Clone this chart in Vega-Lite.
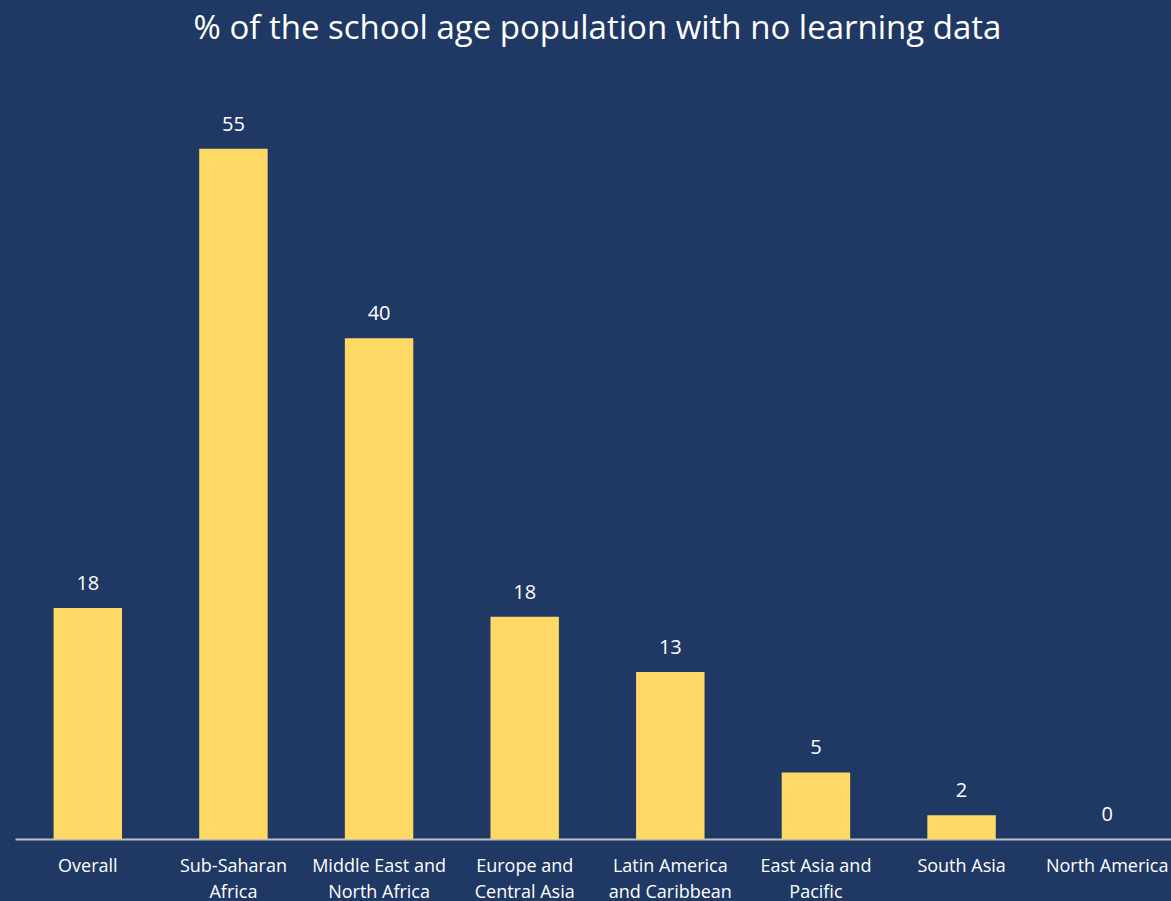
{
  "$schema": "https://vega.github.io/schema/vega-lite/v6.json",
  "width": 1165,
  "height": 753,
  "autosize": {"type": "none"},
  "padding": {"left": 15, "top": 86, "right": 0, "bottom": 62},
  "background": "#203864",
  "title": {
    "text": "% of the school age population with no learning data",
    "fontSize": 33,
    "font": "Open Sans",
    "fontWeight": "normal",
    "color": "#FFFFFF",
    "anchor": "middle",
    "frame": "group",
    "offset": 40
  },
  "config": {"view": {"stroke": null}, "font": "Open Sans"},
  "data": {
    "values": [
      {"region": "Overall", "value": 18.4},
      {"region": "Sub-Saharan Africa", "value": 55},
      {"region": "Middle East and North Africa", "value": 39.9},
      {"region": "Europe and Central Asia", "value": 17.7},
      {"region": "Latin America and Caribbean", "value": 13.3},
      {"region": "East Asia and Pacific", "value": 5.3},
      {"region": "South Asia", "value": 1.9},
      {"region": "North America", "value": 0}
    ]
  },
  "encoding": {
    "x": {
      "field": "region",
      "type": "nominal",
      "sort": null,
      "scale": {"paddingInner": 0.53, "paddingOuter": 0.265},
      "axis": {
        "title": null,
        "labelAngle": 0,
        "labelColor": "#FFFFFF",
        "labelFontSize": 18,
        "labelFont": "Open Sans",
        "labelPadding": 18,
        "labelLineHeight": 26,
        "labelBaseline": "top",
        "labelOverlap": false,
        "labelBound": false,
        "ticks": false,
        "domainColor": "#BFBFBF",
        "domainWidth": 2,
        "labelExpr": "datum.label == 'Sub-Saharan Africa' ? ['Sub-Saharan', 'Africa'] : datum.label == 'Middle East and North Africa' ? ['Middle East and', 'North Africa'] : datum.label == 'Europe and Central Asia' ? ['Europe and', 'Central Asia'] : datum.label == 'Latin America and Caribbean' ? ['Latin America', 'and Caribbean'] : datum.label == 'East Asia and Pacific' ? ['East Asia and', 'Pacific'] : datum.label"
      }
    },
    "y": {
      "field": "value",
      "type": "quantitative",
      "scale": {"domain": [0, 60], "nice": false},
      "axis": null
    }
  },
  "layer": [
    {"mark": {"type": "bar", "color": "#FFD966"}},
    {
      "mark": {"type": "text", "color": "#FFFFFF", "fontSize": 20, "dy": -24, "baseline": "middle", "font": "Open Sans"},
      "encoding": {"text": {"field": "value", "type": "quantitative", "format": ".0f"}}
    }
  ]
}
